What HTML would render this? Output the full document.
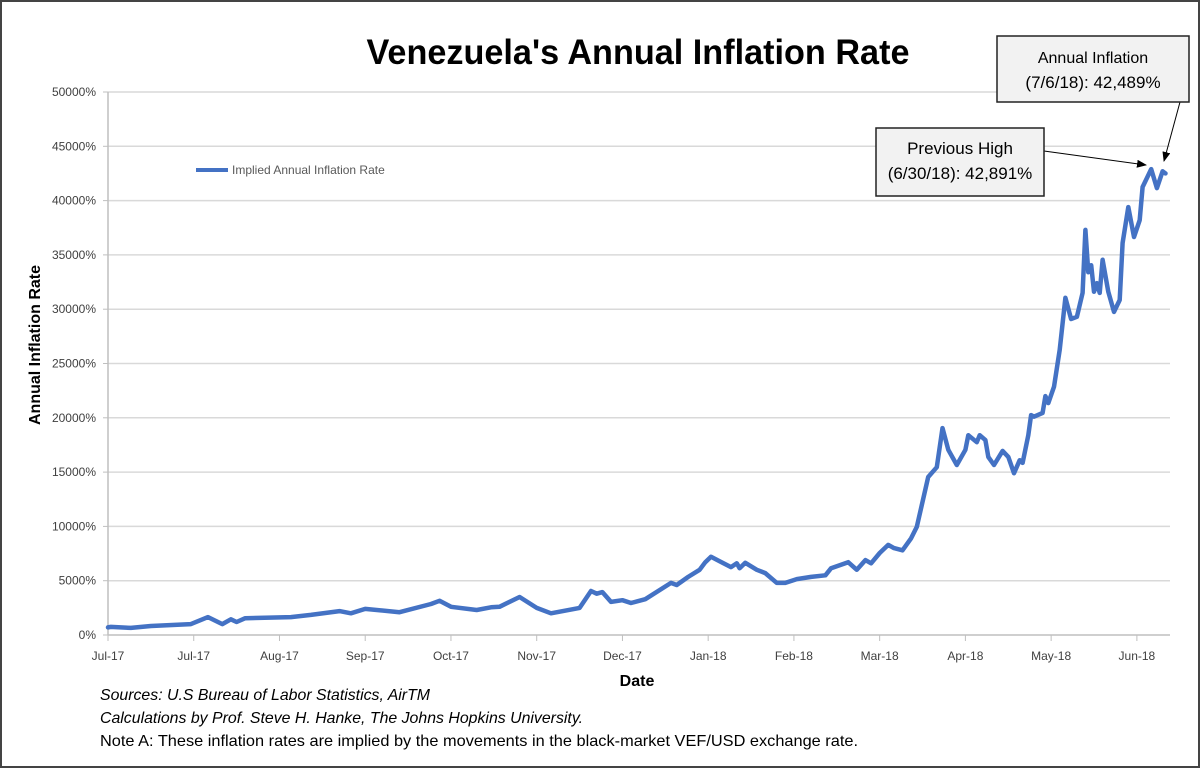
<!DOCTYPE html>
<html><head><meta charset="utf-8"><style>
html,body{margin:0;padding:0;background:#fff}
svg{display:block;font-family:"Liberation Sans",Carlito,sans-serif}
</style></head><body>
<svg id="chart" width="1200" height="768" viewBox="0 0 1200 768">
<rect x="1" y="1" width="1198" height="766" fill="#fff" stroke="#444" stroke-width="2"/>
<text x="638" y="64" text-anchor="middle" font-size="35" font-weight="bold" fill="#000" textLength="543" lengthAdjust="spacingAndGlyphs">Venezuela's Annual Inflation Rate</text>
<g id="grid"></g>
<g id="axes"></g>
<g id="series"></g>
<text transform="translate(40,345) rotate(-90)" text-anchor="middle" font-size="16" font-weight="bold">Annual Inflation Rate</text>
<text x="637" y="686" text-anchor="middle" font-size="16" font-weight="bold">Date</text>
<g>
<line x1="196" y1="170" x2="228" y2="170" stroke="#4472c4" stroke-width="4"/>
<text x="232" y="174" font-size="12" fill="#595959">Implied Annual Inflation Rate</text>
</g>
<g font-size="16" fill="#000">
<text x="100" y="700" font-style="italic" textLength="330" lengthAdjust="spacingAndGlyphs">Sources: U.S Bureau of Labor Statistics, AirTM</text>
<text x="100" y="723" font-style="italic" textLength="483" lengthAdjust="spacingAndGlyphs">Calculations by Prof. Steve H. Hanke, The Johns Hopkins University.</text>
<text x="100" y="746" textLength="758" lengthAdjust="spacingAndGlyphs">Note A: These inflation rates are implied by the movements in the black-market VEF/USD exchange rate.</text>
</g>
<defs><marker id="ah" markerWidth="10" markerHeight="8" refX="9" refY="4" orient="auto"><path d="M0,0 L10,4 L0,8 Z" fill="#000"/></marker></defs>
<line x1="1044" y1="151" x2="1146" y2="165" stroke="#000" stroke-width="1" marker-end="url(#ah)"/>
<line x1="1180" y1="102" x2="1164" y2="161" stroke="#000" stroke-width="1" marker-end="url(#ah)"/>
<g>
<rect x="997" y="36" width="192" height="66" fill="#f2f2f2" stroke="#222" stroke-width="1.5"/>
<text x="1093" y="63" text-anchor="middle" font-size="16">Annual Inflation</text>
<text x="1093" y="88" text-anchor="middle" font-size="17">(7/6/18): 42,489%</text>
</g>
<g>
<rect x="876" y="128" width="168" height="68" fill="#f2f2f2" stroke="#222" stroke-width="1.5"/>
<text x="960" y="154" text-anchor="middle" font-size="17">Previous High</text>
<text x="960" y="179" text-anchor="middle" font-size="17">(6/30/18): 42,891%</text>
</g>
</svg>
<script>
const days = [0,1,8,15,29,35,40,43,45,48,64,71,81,85,90,102,113,116,120,129,134,137,144,150,155,165,169,171,173,176,180,183,188,197,199,203,207,209,211,214,218,220,221,223,227,230,234,237,241,246,251,253,259,262,265,267,270,273,275,278,281,283,287,290,292,294,297,300,301,304,305,307,308,310,313,315,317,319,320,322,323,324,327,328,329,331,333,335,337,339,341,342,343,344,345,346,347,348,350,352,354,355,357,359,361,362,365,367,369,370];
const values = [700,750,650,830,1000,1650,1000,1450,1200,1550,1650,1850,2200,2000,2400,2100,2850,3150,2600,2300,2550,2600,3500,2500,2000,2500,4050,3800,3950,3050,3200,2950,3300,4800,4600,5350,6000,6700,7200,6800,6250,6600,6150,6650,6000,5700,4800,4800,5150,5350,5500,6150,6700,6000,6900,6600,7550,8300,8000,7800,8900,9950,14550,15450,19050,17050,15650,17050,18400,17750,18400,17950,16400,15650,16950,16400,14900,16100,15850,18400,20250,20100,20450,22000,21350,22850,26250,31050,29100,29300,31500,37300,33400,34050,31600,32400,31500,34550,31600,29750,30850,36100,39400,36650,38200,41250,42900,41150,42700,42500];
const yTicks = [0,5000,10000,15000,20000,25000,30000,35000,40000,45000,50000];
const xTickDays = [0,30,60,90,120,150,180,210,240,270,300,330,360];
const xTickLabels = ["Jul-17","Jul-17","Aug-17","Sep-17","Oct-17","Nov-17","Dec-17","Jan-18","Feb-18","Mar-18","Apr-18","May-18","Jun-18"];

const NS="http://www.w3.org/2000/svg";
const X0=108,XR=2.858,Y0=635,YT=92,YMAX=50000,GX1=1170;
const xs=d=>X0+d*XR;
const ys=v=>Y0-(v/YMAX)*(Y0-YT);
function mk(tag,attrs,parent){const e=document.createElementNS(NS,tag);for(const k in attrs)e.setAttribute(k,attrs[k]);parent.appendChild(e);return e;}
const grid=document.getElementById('grid'),axes=document.getElementById('axes'),series=document.getElementById('series');
yTicks.forEach(v=>{
  const y=ys(v);
  if(v>0){const g=mk('line',{x1:X0,x2:GX1,y1:y,y2:y,stroke:'#d9d9d9','stroke-width':1.5},grid);
  
  }
  const tk=mk('line',{x1:X0-5,x2:X0,y1:y,y2:y,stroke:'#bfbfbf'},axes);
  
  
  const t=mk('text',{x:X0-12,y:y+4,'text-anchor':'end','font-size':12,fill:'#404040'},axes);
  t.textContent=v+'%';
  
  
});
const ya=mk('line',{x1:X0,x2:X0,y1:YT,y2:Y0,stroke:'#bfbfbf','stroke-width':1.5},axes);


const xa=mk('line',{x1:X0,x2:GX1,y1:Y0,y2:Y0,stroke:'#bfbfbf','stroke-width':1.5},axes);


xTickDays.forEach((d,i)=>{
  const x=xs(d);
  const tk=mk('line',{x1:x,x2:x,y1:Y0,y2:Y0+6,stroke:'#bfbfbf'},axes);
  
  
  const t=mk('text',{x:x,y:Y0+25,'text-anchor':'middle','font-size':12,fill:'#404040'},axes);
  t.textContent=xTickLabels[i];
  
  
});
const pts=days.map((d,i)=>xs(d).toFixed(1)+','+ys(values[i]).toFixed(1)).join(' ');
const pl=mk('polyline',{points:pts,fill:'none',stroke:'#4472c4','stroke-width':4.5,'stroke-linejoin':'round','stroke-linecap':'round'},series);


</script>
</body></html>
